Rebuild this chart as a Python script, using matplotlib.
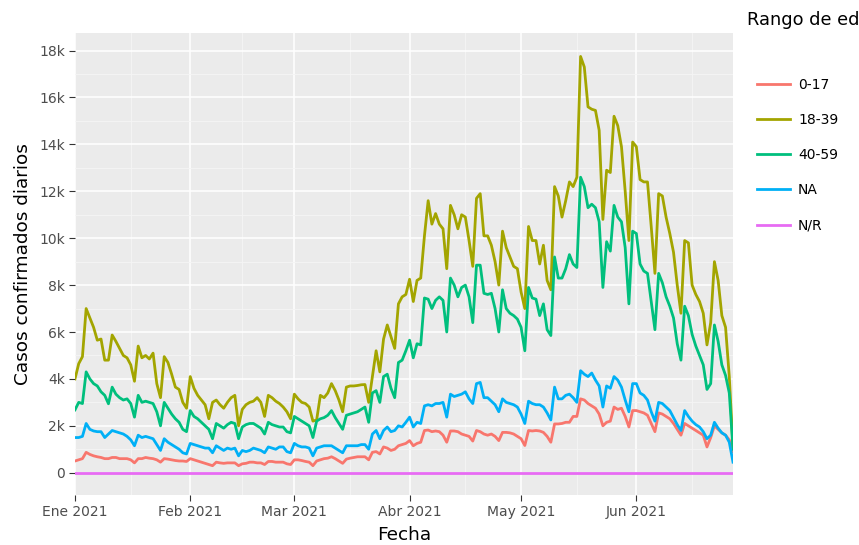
import matplotlib

matplotlib.use("Agg", force=True)

import matplotlib.pyplot as plt
import pandas as pd

# daily confirmed cases (thousands), 2021-01-01 .. 2021-06-27
dates = pd.date_range("2021-01-01", periods=178, freq="D")

age_groups = ["0-17", "18-39", "40-59", "NA", "N/R"]
colors = ["#F8766D", "#A3A500", "#00BF7D", "#00B0F6", "#E76BF3"]

cases_0_17 = [
    0.50, 0.55, 0.60, 0.87, 0.78, 0.72, 0.68, 0.65, 0.60, 0.60,
    0.65, 0.65, 0.60, 0.60, 0.60, 0.55, 0.42, 0.60, 0.60, 0.65,
    0.62, 0.60, 0.55, 0.45, 0.60, 0.58, 0.55, 0.52, 0.50, 0.50,
    0.48, 0.60, 0.55, 0.50, 0.45, 0.40, 0.35, 0.30, 0.45, 0.42,
    0.40, 0.42, 0.42, 0.42, 0.30, 0.38, 0.40, 0.45, 0.45, 0.42,
    0.42, 0.35, 0.48, 0.48, 0.45, 0.45, 0.45, 0.38, 0.35, 0.55,
    0.55, 0.52, 0.48, 0.45, 0.30, 0.50, 0.55, 0.60, 0.62, 0.68,
    0.60, 0.50, 0.40, 0.58, 0.62, 0.65, 0.68, 0.68, 0.68, 0.55,
    0.87, 0.90, 0.80, 1.10, 1.05, 0.95, 1.00, 1.15, 1.20, 1.25,
    1.37, 1.15, 1.25, 1.30, 1.80, 1.82, 1.75, 1.78, 1.75, 1.60,
    1.30, 1.78, 1.78, 1.75, 1.65, 1.60, 1.55, 1.35, 1.80, 1.75,
    1.65, 1.60, 1.65, 1.55, 1.37, 1.72, 1.72, 1.70, 1.65, 1.55,
    1.45, 1.16, 1.80, 1.78, 1.80, 1.78, 1.72, 1.55, 1.30, 2.08,
    2.08, 2.10, 2.15, 2.15, 2.40, 2.40, 3.15, 3.10, 2.95, 2.85,
    2.75, 2.50, 2.00, 2.15, 2.20, 2.80, 2.70, 2.75, 2.40, 1.95,
    2.65, 2.65, 2.60, 2.55, 2.45, 2.10, 1.75, 2.55, 2.50, 2.40,
    2.30, 2.10, 1.85, 1.60, 2.10, 2.00, 1.90, 1.80, 1.70, 1.60,
    1.10, 1.50, 2.00, 1.85, 1.70, 1.60, 1.40, 0.90,
]

cases_18_39 = [
    4.00, 4.65, 4.95, 7.00, 6.60, 6.20, 5.65, 5.70, 4.80, 4.80,
    5.87, 5.60, 5.30, 5.00, 4.90, 4.60, 3.90, 5.40, 4.90, 5.00,
    4.85, 5.10, 3.80, 3.20, 4.95, 4.70, 4.20, 3.65, 3.55, 3.00,
    2.75, 4.10, 3.60, 3.30, 3.10, 2.90, 2.30, 3.00, 3.10, 2.90,
    2.75, 3.00, 3.20, 3.30, 2.00, 2.70, 2.90, 3.00, 3.05, 3.20,
    3.00, 2.40, 3.30, 3.20, 3.05, 2.95, 2.80, 2.60, 2.30, 3.35,
    3.15, 3.00, 2.95, 2.80, 2.20, 2.25, 3.30, 3.20, 3.40, 3.80,
    3.50, 3.10, 2.60, 3.65, 3.70, 3.70, 3.72, 3.75, 3.76, 3.00,
    4.10, 5.20, 4.30, 5.70, 6.30, 5.80, 5.30, 7.20, 7.50, 7.60,
    8.25, 7.30, 8.20, 8.30, 10.1, 11.6, 10.6, 11.05, 10.6, 10.4,
    8.70, 11.4, 11.0, 10.4, 11.0, 10.9, 9.90, 8.80, 11.7, 11.9,
    10.1, 10.1, 9.70, 9.00, 8.00, 10.3, 9.60, 9.20, 8.80, 8.70,
    7.70, 7.00, 10.5, 9.90, 9.90, 8.90, 9.70, 8.20, 7.80, 12.2,
    11.8, 10.9, 11.6, 12.4, 12.2, 12.6, 17.75, 17.3, 15.6, 15.5,
    15.45, 14.6, 10.8, 12.9, 12.8, 15.2, 14.8, 13.9, 12.0, 9.90,
    14.1, 13.9, 12.5, 12.4, 12.4, 10.5, 8.50, 11.9, 11.8, 10.9,
    10.2, 9.40, 8.00, 6.80, 9.90, 9.80, 8.00, 7.60, 7.30, 6.80,
    5.45, 6.40, 9.00, 8.20, 6.70, 6.20, 4.10, 1.10,
]

cases_40_59 = [
    2.68, 3.00, 2.95, 4.30, 4.00, 3.80, 3.70, 3.45, 3.30, 2.94,
    3.65, 3.35, 3.20, 3.10, 3.15, 2.95, 2.37, 3.30, 3.00, 3.05,
    3.00, 2.95, 2.60, 2.00, 3.00, 2.75, 2.50, 2.30, 2.15, 1.85,
    1.75, 2.65, 2.40, 2.30, 2.15, 2.00, 1.85, 1.45, 2.10, 2.00,
    1.90, 2.05, 2.15, 2.10, 1.45, 1.95, 2.05, 2.10, 2.10, 2.00,
    1.90, 1.65, 2.15, 2.05, 2.00, 1.95, 1.95, 1.75, 1.70, 2.40,
    2.30, 2.20, 2.10, 2.00, 1.50, 2.20, 2.30, 2.35, 2.45, 2.65,
    2.35, 2.10, 1.85, 2.45, 2.50, 2.55, 2.60, 2.70, 2.80, 2.15,
    3.40, 3.50, 3.00, 4.10, 4.20, 3.60, 3.20, 4.70, 4.80, 5.20,
    5.65, 4.90, 5.50, 5.45, 7.45, 7.40, 7.00, 7.35, 7.50, 7.35,
    6.00, 8.30, 8.00, 7.50, 7.90, 8.00, 7.50, 6.40, 8.85, 8.85,
    7.65, 7.60, 7.65, 7.00, 6.00, 7.80, 7.00, 6.80, 6.70, 6.55,
    6.20, 5.20, 7.90, 7.45, 7.40, 6.70, 7.20, 6.10, 5.85, 9.20,
    8.30, 8.30, 8.70, 9.30, 8.90, 8.75, 12.6, 12.2, 11.3, 11.45,
    11.3, 10.7, 7.90, 9.85, 9.45, 11.4, 10.9, 10.7, 9.60, 7.20,
    10.3, 10.2, 8.90, 8.60, 8.50, 7.30, 6.10, 8.50, 8.10, 7.50,
    7.10, 6.60, 5.50, 4.80, 7.10, 6.70, 5.90, 5.40, 5.00, 4.60,
    3.55, 3.80, 6.30, 5.60, 4.60, 4.15, 3.40, 1.00,
]

cases_na = [
    1.50, 1.50, 1.55, 2.10, 1.85, 1.78, 1.75, 1.75, 1.50, 1.65,
    1.80, 1.75, 1.70, 1.65, 1.55, 1.40, 1.15, 1.60, 1.50, 1.55,
    1.50, 1.45, 1.20, 0.95, 1.45, 1.30, 1.20, 1.10, 1.00, 0.85,
    0.80, 1.25, 1.20, 1.15, 1.10, 1.05, 1.05, 0.85, 1.15, 1.05,
    0.95, 1.05, 1.00, 1.05, 0.72, 0.95, 0.90, 0.95, 1.05, 1.00,
    0.95, 0.85, 1.10, 1.05, 1.00, 1.10, 1.10, 0.90, 0.85, 1.25,
    1.15, 1.10, 1.10, 1.05, 0.72, 1.05, 1.10, 1.15, 1.15, 1.15,
    1.05, 0.95, 0.85, 1.15, 1.15, 1.15, 1.15, 1.20, 1.20, 1.00,
    1.65, 1.80, 1.45, 1.80, 1.95, 1.75, 1.80, 2.00, 1.95, 2.15,
    2.37, 1.95, 2.15, 2.10, 2.85, 2.90, 2.85, 2.95, 2.95, 3.00,
    2.37, 3.35, 3.25, 3.30, 3.35, 3.45, 3.15, 2.95, 3.80, 3.85,
    3.20, 3.20, 3.05, 2.90, 2.60, 3.15, 3.00, 2.95, 2.90, 2.80,
    2.50, 2.10, 3.05, 2.95, 2.90, 2.90, 2.80, 2.55, 2.25, 3.65,
    3.15, 3.15, 3.30, 3.35, 3.20, 3.00, 4.35, 4.20, 4.10, 4.25,
    3.95, 3.70, 2.80, 3.70, 3.60, 4.10, 3.95, 3.65, 3.10, 2.60,
    3.80, 3.80, 3.40, 3.30, 3.10, 2.60, 2.20, 3.00, 2.95, 2.80,
    2.65, 2.35, 2.05, 1.80, 2.65, 2.40, 2.20, 2.05, 1.95, 1.75,
    1.45, 1.60, 2.15, 1.90, 1.70, 1.60, 1.30, 0.45,
]

cases_nr = [0.0] * 178

series = [cases_0_17, cases_18_39, cases_40_59, cases_na, cases_nr]

month_ticks = pd.to_datetime(["2021-01-01", "2021-02-01", "2021-03-01",
                              "2021-04-01", "2021-05-01", "2021-06-01"])
month_labels = ["Ene 2021", "Feb 2021", "Mar 2021", "Abr 2021", "May 2021", "Jun 2021"]
minor_ticks = pd.to_datetime(["2021-01-16", "2021-02-15", "2021-03-16",
                              "2021-04-16", "2021-05-16", "2021-06-16"])
y_ticks = [0, 2000, 4000, 6000, 8000, 10000, 12000, 14000, 16000, 18000]
y_labels = ["0", "2k", "4k", "6k", "8k", "10k", "12k", "14k", "16k", "18k"]

plt.rcParams["font.family"] = ["DejaVu Sans"]

fig = plt.figure(figsize=(8.59, 5.45), dpi=100)
ax = fig.add_axes([75 / 859, 50 / 545, 658 / 859, 462 / 545])
ax.set_facecolor("#EBEBEB")

for name, vals, col in zip(age_groups, series, colors):
    ax.plot(dates, [v * 1000 for v in vals], color=col, lw=2.0, label=name,
            solid_joinstyle="round", zorder=3)

ax.set_xlim(dates[0], dates[-1])
ax.set_ylim(-950, 18750)

ax.set_xticks(month_ticks)
ax.set_xticklabels(month_labels)
ax.set_xticks(minor_ticks, minor=True)
ax.set_yticks(y_ticks)
ax.set_yticklabels(y_labels)
ax.set_yticks([1000, 3000, 5000, 7000, 9000, 11000, 13000, 15000, 17000], minor=True)

ax.grid(which="major", color="white", lw=1.1, zorder=0)
ax.grid(which="minor", color="#F5F5F5", lw=0.6, zorder=0)
ax.set_axisbelow(True)
for s in ax.spines.values():
    s.set_visible(False)

ax.tick_params(which="major", length=4, width=0.8, color="#333333",
               labelsize=10, labelcolor="#4D4D4D", pad=3)
ax.tick_params(which="minor", length=0)

ax.set_xlabel("Fecha", fontsize=13.3, labelpad=5)
ax.set_ylabel("Casos confirmados diarios", fontsize=13.3, labelpad=5)

# legend title runs past the right edge, as in the original
fig.text(747 / 859, 1 - 20 / 545, "Rango de edad", fontsize=12.8, va="center", ha="left")
ax.legend(loc="upper left", bbox_to_anchor=(757 / 859, 1 - 78 / 545),
          bbox_transform=fig.transFigure, frameon=False, fontsize=10,
          handlelength=2.4, handletextpad=0.55, labelspacing=1.52, borderpad=0,
          borderaxespad=0)

fig.savefig("out.png", dpi=100)
plt.close(fig)
